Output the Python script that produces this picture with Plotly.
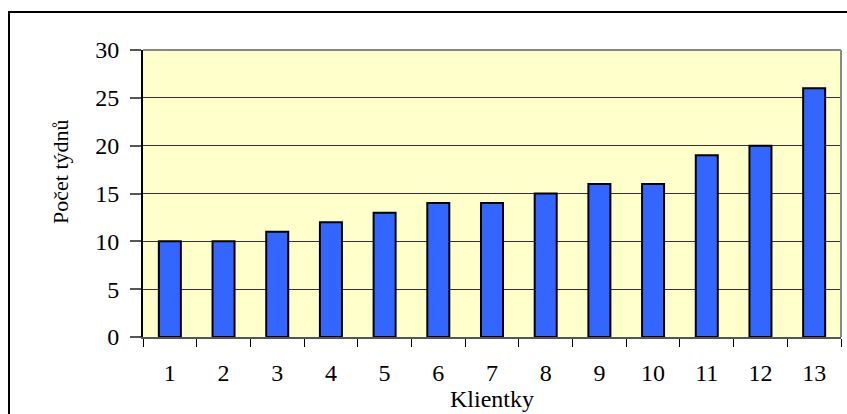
import plotly.graph_objects as go

categories = ["1", "2", "3", "4", "5", "6", "7", "8", "9", "10", "11", "12", "13"]
weeks = [10, 10, 11, 12, 13, 14, 14, 15, 16, 16, 19, 20, 26]
y_ticks = [0, 5, 10, 15, 20, 25, 30]

FONT = "Liberation Serif, Times New Roman, serif"

fig = go.Figure()
fig.add_trace(go.Bar(
    x=categories, y=weeks,
    marker=dict(color="#3366FF", line=dict(color="#000000", width=2)),
    hoverinfo="x+y",
))

W, H = 847, 414
L, R, T, B = 143, 6, 50, 77
pw, ph = W - L - R, H - T - B

def px_x(px):
    return (px - L) / pw

def px_y(py):
    return (H - B - py) / ph

fig.update_layout(
    width=W, height=H,
    margin=dict(l=L, r=R, t=T, b=B, autoexpand=False),
    paper_bgcolor="white",
    plot_bgcolor="#FFFFCC",
    bargap=0.59,
    showlegend=False,
    font=dict(family=FONT, size=24, color="black"),
    xaxis=dict(
        type="category",
        automargin=False,
        tickson="boundaries",
        ticks="outside", ticklen=8, tickcolor="#000000", tickwidth=1,
        ticklabelstandoff=13,
        showgrid=False,
        showline=True, linecolor="#555555", linewidth=2,
        mirror=False,
        tickfont=dict(family=FONT, size=24),
    ),
    yaxis=dict(
        range=[0, 30],
        automargin=False,
        tickvals=y_ticks,
        ticks="outside", ticklen=11, tickcolor="#555555", tickwidth=2,
        ticklabelstandoff=6,
        showgrid=True, gridcolor="#333333", gridwidth=1,
        showline=True, linecolor="#000000", linewidth=2,
        zeroline=False,
        tickfont=dict(family=FONT, size=24),
    ),
    annotations=[
        dict(text="Počet týdnů", xref="paper", yref="paper",
             x=px_x(60), y=px_y(172), xanchor="center", yanchor="middle",
             textangle=-90, showarrow=False,
             font=dict(family=FONT, size=22)),
        dict(text="Klientky", xref="paper", yref="paper",
             x=0.5, y=px_y(399), xanchor="center", yanchor="middle",
             showarrow=False,
             font=dict(family=FONT, size=24)),
    ],
    shapes=[
        dict(type="line", xref="paper", yref="paper", x0=0, x1=1, y0=1, y1=1,
             line=dict(color="#888888", width=2)),
        dict(type="line", xref="paper", yref="paper", x0=1, x1=1, y0=0, y1=1,
             line=dict(color="#888888", width=2)),
        dict(type="rect", xref="paper", yref="paper",
             x0=px_x(9), x1=px_x(852), y0=px_y(420), y1=px_y(12),
             line=dict(color="#000000", width=2), layer="above"),
    ],
)

fig.write_html(
    "out.html",
    config={"displayModeBar": False},
    post_script="document.body.style.margin='0';document.body.style.overflow='hidden';",
)
